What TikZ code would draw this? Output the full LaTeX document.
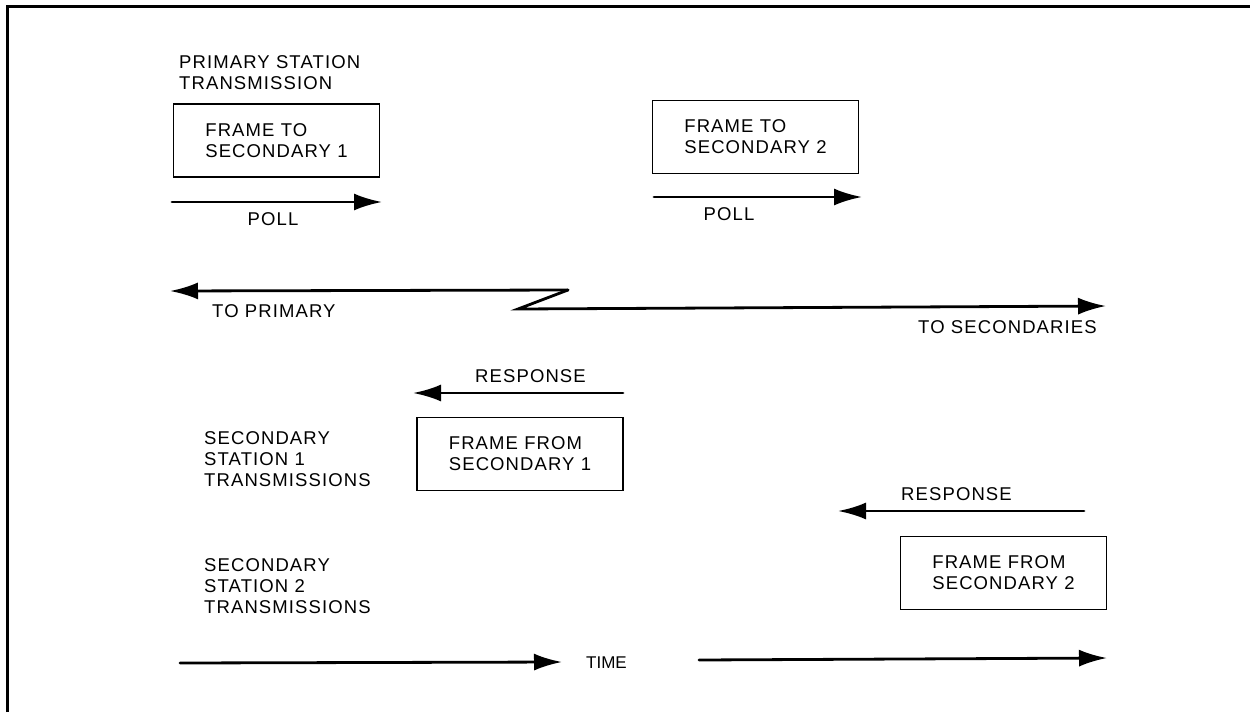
\documentclass[tikz,border=0pt]{standalone}
\usepackage{fontspec}
\setmainfont{Liberation Sans}[LetterSpace=6]
\newfontfamily\plainfont{Liberation Sans}
\usetikzlibrary{arrows.meta}
\tikzset{
  lbl/.style={inner sep=0pt, anchor=base west, font=\fontsize{18.5}{21}\selectfont},
  mlbl/.style={inner sep=0pt, anchor=north west, align=left, font=\fontsize{18.5}{21}\selectfont},
  frame/.style={draw, line width=1.8pt, minimum width=206pt, minimum height=73pt, inner sep=0pt,
     align=left, font=\fontsize{18.5}{21}\selectfont},
  arr/.style={line width=2.8pt, line cap=round, -{Latex[length=28pt,width=17pt]}},
}
\begin{document}
\begin{tikzpicture}[x=1pt,y=-1pt]
\useasboundingbox (0,0) rectangle (1250,712);
\draw[line width=3pt] (7,712) -- (7,6) -- (1250,6);

% labels
\node[mlbl] (pst) at (179,55.8) {PRIMARY STATION\\TRANSMISSION};
\node[mlbl] (ss1) at (204,431.8) {SECONDARY\\STATION 1\\TRANSMISSIONS};
\node[mlbl] (ss2) at (204,558.8) {SECONDARY\\STATION 2\\TRANSMISSIONS};

% boxes
\node[frame] (f1) at (276.5,140.5) {FRAME TO\\SECONDARY 1};
\node[frame] (f2) at (755.5,137) {FRAME TO\\SECONDARY 2};
\node[frame] (f3) at (520,454) {FRAME FROM\\SECONDARY 1};
\node[frame] (f4) at (1003.5,573) {FRAME FROM\\SECONDARY 2};

% poll arrows
\coordinate (p1s) at (172,202);
\coordinate (p1e) at (382,202);
\draw[arr] (p1s) -- (p1e);
\node[lbl, anchor=base] (poll1) at (273,225) {POLL};
\coordinate (p2s) at (654,197);
\coordinate (p2e) at (862,197);
\draw[arr] (p2s) -- (p2e);
\node[lbl, anchor=base] (poll2) at (729,220) {POLL};

% direction line with Z
\coordinate (zt) at (568,290);
\coordinate (zb) at (518,309);
\coordinate (tp) at (170,291);
\coordinate (ts) at (1106,306);
\draw[arr] (zt) -- (tp);
\draw[arr, line join=miter] (zt) -- (zb) -- (ts);
\node[lbl] (toprim) at (212,317) {TO PRIMARY};
\node[lbl] (tosec) at (918,333) {TO SECONDARIES};

% responses
\coordinate (r1s) at (623,393);
\coordinate (r1e) at (413,393);
\draw[arr] (r1s) -- (r1e);
\node[lbl] (resp1) at (475,382) {RESPONSE};
\coordinate (r2s) at (1084,511);
\coordinate (r2e) at (838,511);
\draw[arr] (r2s) -- (r2e);
\node[lbl] (resp2) at (901,500) {RESPONSE};

% time
\coordinate (t1s) at (180,663);
\coordinate (t1e) at (562,662);
\draw[arr] (t1s) -- (t1e);
\node[lbl, font=\fontsize{17}{20}\plainfont] (time) at (586,668) {TIME};
\coordinate (t2s) at (699,660);
\coordinate (t2e) at (1107,658);
\draw[arr] (t2s) -- (t2e);
\end{tikzpicture}
\end{document}
